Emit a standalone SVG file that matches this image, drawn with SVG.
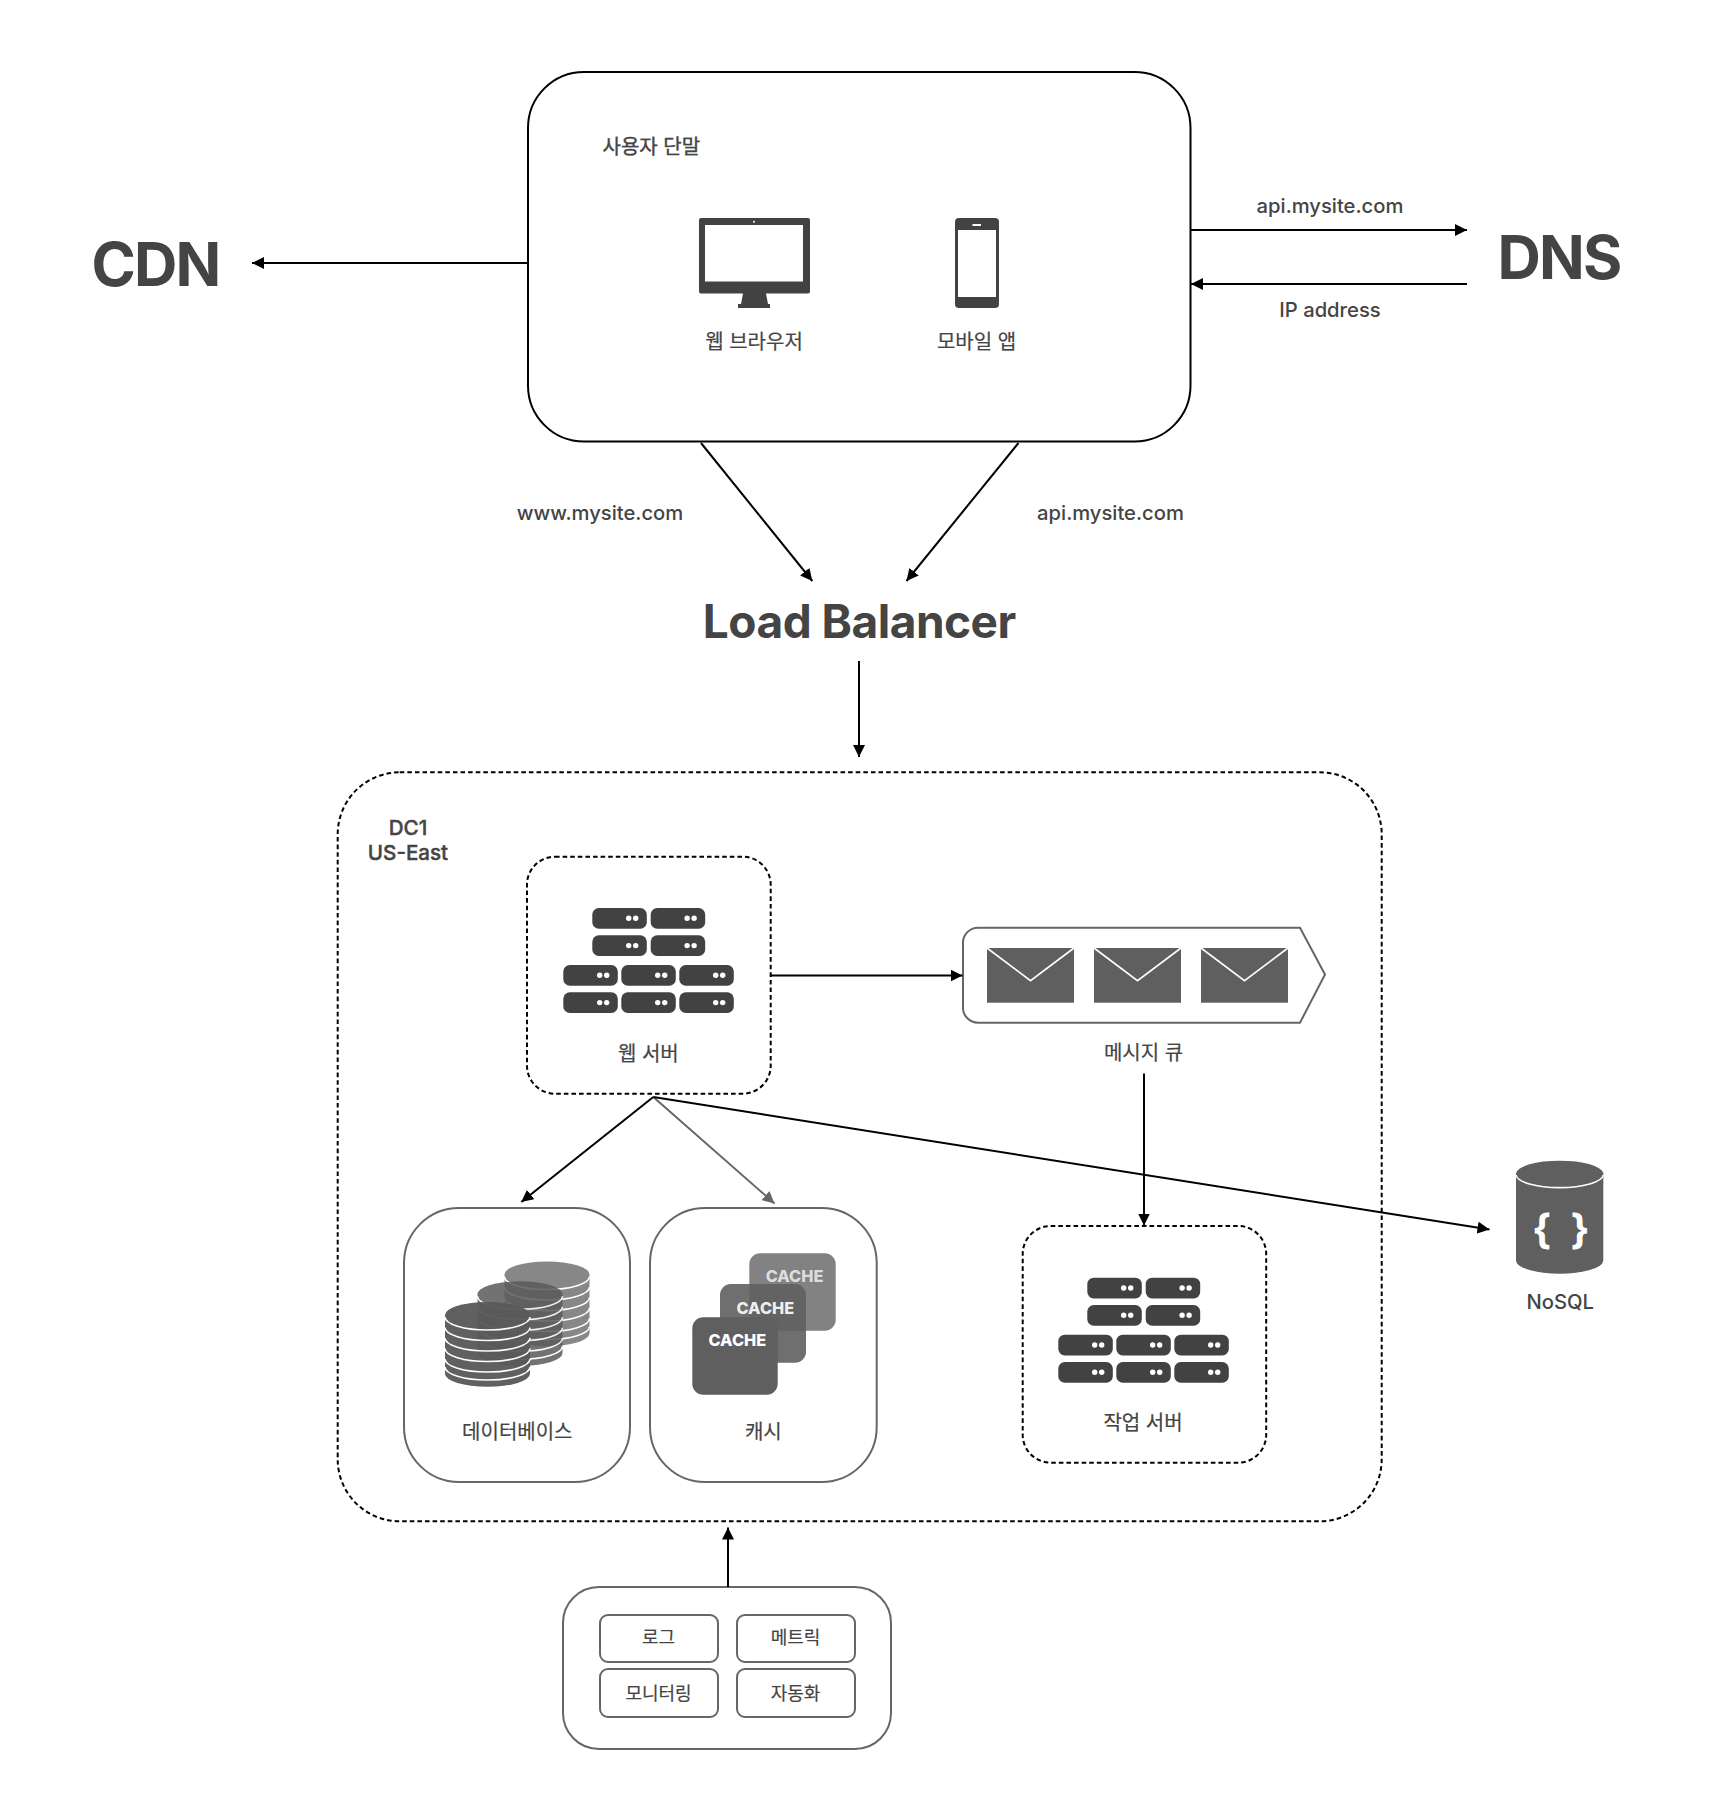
<svg xmlns="http://www.w3.org/2000/svg" width="1726" height="1810" viewBox="0 0 1726 1810">
<style>
text{font-family:Inter,"Noto Sans CJK KR","Noto Sans",sans-serif;fill:#444;text-anchor:middle}
.l{font-size:20px;stroke:#444;stroke-width:.2px}
.m{font-weight:500;font-size:20.2px}
.h{stroke:#444;stroke-width:.4px}
.d{font-size:20.6px;font-weight:500}
.s{font-size:18px;stroke:#444;stroke-width:.2px}
.big{font-size:60px;font-weight:700;letter-spacing:-1.8px}
.lb{font-size:46px;font-weight:700;letter-spacing:-.5px}
.box{fill:#fff;stroke:#000;stroke-width:2}
.gbox{fill:#fff;stroke:#666;stroke-width:2}
.dash{fill:none;stroke:#000;stroke-width:2;stroke-dasharray:4.6 3}
.cn{fill:none;stroke:#000;stroke-width:2}
.cn2{fill:none;stroke:#666;stroke-width:2}
.ca{font-size:16.3px;font-weight:800}
.srv{fill:#424242}
.dot{fill:#fff}
.env{fill:#5f5f5f}
.vee{fill:none;stroke:#fff;stroke-width:1.6}
</style>
<defs>
<marker id="ah" markerUnits="userSpaceOnUse" markerWidth="13" markerHeight="12" refX="12" refY="6" orient="auto"><path d="M0,0L12,6L0,12z" fill="#000"/></marker>
<marker id="ag" markerUnits="userSpaceOnUse" markerWidth="13" markerHeight="12" refX="12" refY="6" orient="auto"><path d="M0,0L12,6L0,12z" fill="#666"/></marker>
<g id="rack"><rect class="srv" width="54.5" height="20.7" rx="6.5"/><circle class="dot" cx="36.4" cy="10.3" r="2.7"/><circle class="dot" cx="43.4" cy="10.3" r="2.7"/></g>
<g id="servers">
<use href="#rack" x="29" y="0"/><use href="#rack" x="87.4" y="0"/>
<use href="#rack" x="29" y="27.3"/><use href="#rack" x="87.4" y="27.3"/>
<use href="#rack" x="0" y="57"/><use href="#rack" x="58" y="57"/><use href="#rack" x="116" y="57"/>
<use href="#rack" x="0" y="84.3"/><use href="#rack" x="58" y="84.3"/><use href="#rack" x="116" y="84.3"/>
</g>
<g id="env"><rect class="env" width="87" height="54.7"/><path class="vee" d="M0,0L43.5,32.7L87,0"/></g>
<g id="cyl">
<path d="M-42.5,0A42.5,13 0 0 1 42.5,0V58.7A42.5,13 0 0 1 -42.5,58.7Z" fill="#5a5a5a"/>
<path d="M-42.5,2A42.5,13 0 0 0 42.5,2M-42.500,12.500A42.500,13 0 0 0 42.500,12.500M-42.500,23A42.500,13 0 0 0 42.500,23M-42.500,33.500A42.500,13 0 0 0 42.500,33.500M-42.500,44A42.500,13 0 0 0 42.500,44M-42.500,52A42.500,13 0 0 0 42.500,52" fill="none" stroke="#fff" stroke-width="1.6"/>
</g>
</defs>
<rect width="1726" height="1810" fill="#fff"/>

<g id="client-box">
<rect class="box" x="528" y="72" width="662.500" height="369.500" rx="56"/>
<text class="l h" x="651.300" y="154.300">사용자 단말</text>
<g id="monitor"><path fill="#424242" d="M701,218H808a2,2 0 0 1 2,2V291.500a2,2 0 0 1 -2,2H766L768,304H770V308H738V304H741L743,293.500H701a2,2 0 0 1 -2,-2V220a2,2 0 0 1 2,-2Z"/><rect x="705" y="225" width="98" height="56.500" fill="#fff"/><circle cx="754" cy="221.700" r="1" fill="#fff"/></g>
<text class="l" x="754" y="349">웹 브라우저</text>
<g id="phone"><rect x="955" y="218" width="44" height="90" rx="4" fill="#424242"/><rect x="958" y="230" width="38" height="67" fill="#fff"/><rect x="972.500" y="224" width="8.500" height="2" fill="#fff"/></g>
<text class="l" x="976.500" y="349">모바일 앱</text>
</g>
<g id="cdn"><text class="big" x="155.500" y="286">CDN</text></g>
<g id="dns"><text class="big" x="1559" y="279">DNS</text></g>
<g id="load-balancer"><text class="lb" x="859.300" y="637.500">Load Balancer</text></g>

<g id="dc1">
<rect class="dash" x="337.700" y="772.300" width="1044" height="749" rx="62"/>
<text class="d h" x="408" y="834.500">DC1</text>
<text class="d h" x="408" y="859.500">US-East</text>
</g>
<g id="web-server">
<rect class="dash" x="527" y="856.700" width="243.700" height="237" rx="28"/>
<use href="#servers" x="563.300" y="908"/>
<text class="l" x="648.300" y="1061">웹 서버</text>
</g>
<g id="message-queue">
<path class="gbox" d="M978,927.700H1300L1325,974.500L1300,1022.700H978a15,15 0 0 1 -15,-15V942.700a15,15 0 0 1 15,-15Z"/>
<use href="#env" x="987" y="948"/><use href="#env" x="1094" y="948"/><use href="#env" x="1201" y="948"/>
<text class="l" x="1143.600" y="1059.700">메시지 큐</text>
</g>
<g id="worker">
<rect class="dash" x="1022.700" y="1226" width="243.500" height="236.700" rx="28"/>
<use href="#servers" x="1058.300" y="1277.700"/>
<text class="l" x="1143" y="1430">작업 서버</text>
</g>
<g id="database">
<rect class="gbox" x="404" y="1208" width="226" height="274" rx="55"/>
<use href="#cyl" x="547" y="1274.500" opacity=".72"/>
<use href="#cyl" x="520" y="1294.300" opacity=".85"/>
<use href="#cyl" x="487.500" y="1315" opacity=".96"/>
<text class="l" x="517.300" y="1438.500">데이터베이스</text>
</g>
<g id="cache">
<rect class="gbox" x="650" y="1208" width="226.700" height="274" rx="55"/>
<rect x="749.300" y="1253.300" width="86.400" height="77.400" rx="11" fill="#5f5f5f" opacity=".78"/>
<rect x="720" y="1284" width="86" height="78.700" rx="11" fill="#5f5f5f" opacity=".9"/>
<rect x="692.300" y="1317.300" width="85.400" height="77.400" rx="11" fill="#5f5f5f"/>
<text class="ca" x="794.500" y="1281.500" style="fill:#ddd">CACHE</text>
<text class="ca" x="765.300" y="1313.500" style="fill:#eee">CACHE</text>
<text class="ca" x="737.300" y="1345.500" style="fill:#fff">CACHE</text>
<text class="l" x="763.300" y="1438.500">캐시</text>
</g>
<g id="nosql">
<path d="M1516,1173.300A43.700,13.300 0 0 1 1603.300,1173.300V1261A43.700,13.300 0 0 1 1516,1261Z" fill="#5f5f5f"/>
<path d="M1516,1175A43.700,13.300 0 0 0 1603.300,1175" fill="none" stroke="#fff" stroke-width="1.6"/>
<text x="1541.500 1560 1580" y="1243.500" style="font-size:41px;font-weight:700;fill:#fff">{ }</text>
<text class="m" x="1560.300" y="1308.600">NoSQL</text>
</g>
<g id="ops">
<rect class="gbox" x="563" y="1587" width="328" height="162" rx="36"/>
<rect class="gbox" x="600" y="1615" width="118" height="47" rx="8"/>
<rect class="gbox" x="737" y="1615" width="118" height="47" rx="8"/>
<rect class="gbox" x="600" y="1669" width="118" height="48" rx="8"/>
<rect class="gbox" x="737" y="1669" width="118" height="48" rx="8"/>
<text class="s" x="658.500" y="1643.500">로그</text>
<text class="s" x="795.500" y="1643.500">메트릭</text>
<text class="s" x="658.500" y="1699.500">모니터링</text>
<text class="s" x="795.500" y="1699.500">자동화</text>
</g>

<g id="connectors">
<path class="cn" marker-end="url(#ah)" d="M528,263H252"/>
<path class="cn" marker-end="url(#ah)" d="M1191,230H1467"/>
<path class="cn" marker-end="url(#ah)" d="M1467,284H1191"/>
<path class="cn" marker-end="url(#ah)" d="M701,443L812.300,581"/>
<path class="cn" marker-end="url(#ah)" d="M1018.500,443L906.500,581"/>
<path class="cn" marker-end="url(#ah)" d="M859,661V757"/>
<path class="cn" marker-end="url(#ah)" d="M771,975.500H962.500"/>
<path class="cn" marker-end="url(#ah)" d="M1144,1073.500V1225.500"/>
<path class="cn" marker-end="url(#ah)" d="M653.300,1097L521.300,1202"/>
<path class="cn2" marker-end="url(#ag)" d="M653.300,1097L774.500,1203.500"/>
<path class="cn" marker-end="url(#ah)" d="M653.300,1097L1489.500,1229.500"/>
<path class="cn" marker-end="url(#ah)" d="M728,1587V1527.500"/>
<text class="m" x="1330" y="213">api.mysite.com</text>
<text class="m" x="1330" y="317">IP address</text>
<text class="m" x="600" y="520">www.mysite.com</text>
<text class="m" x="1110.500" y="520">api.mysite.com</text>
</g>
</svg>
